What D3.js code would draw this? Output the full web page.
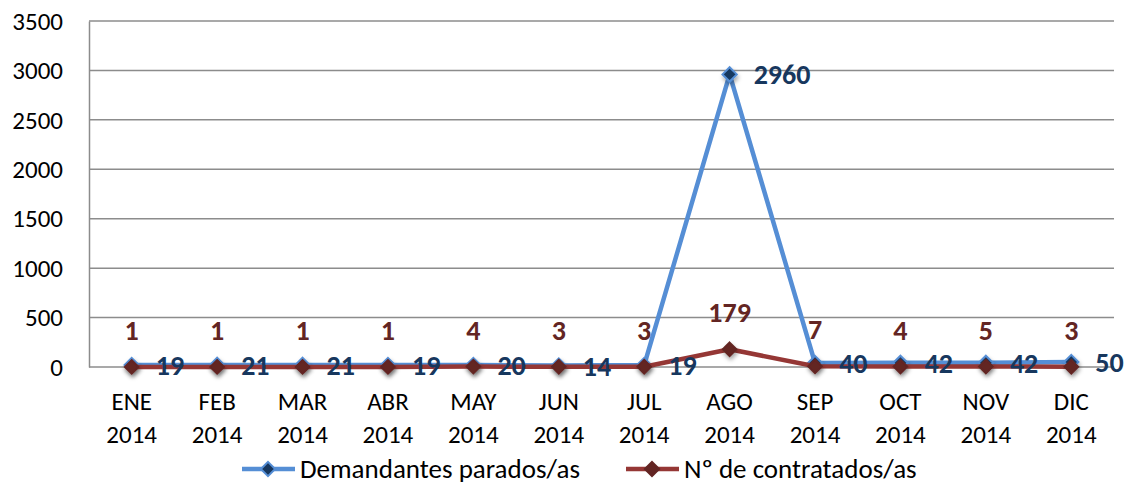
<!DOCTYPE html>
<html>
<head>
<meta charset="utf-8">
<script src="https://cdn.jsdelivr.net/npm/d3@7"></script>
<style>
  body { margin: 0; background: #fff; }
  svg text { font-family: Carlito, "Open Sans", "DejaVu Sans", sans-serif; }
</style>
</head>
<body>
<svg id="chart" width="1126" height="486"></svg>
<script>
const months = ["ENE", "FEB", "MAR", "ABR", "MAY", "JUN", "JUL", "AGO", "SEP", "OCT", "NOV", "DIC"];
const years = ["2014", "2014", "2014", "2014", "2014", "2014", "2014", "2014", "2014", "2014", "2014", "2014"];
const demandantes = [19, 21, 21, 19, 20, 14, 19, 2960, 40, 42, 42, 50];
const contratados = [1, 1, 1, 1, 4, 3, 3, 179, 7, 4, 5, 3];
const yTicks = [0, 500, 1000, 1500, 2000, 2500, 3000, 3500];
const seriesNames = ["Demandantes parados/as", "Nº de contratados/as"];

const svg = d3.select("#chart");
const margin = { top: 21, right: 12, bottom: 119, left: 89 };
const width = +svg.attr("width") - margin.left - margin.right;
const height = +svg.attr("height") - margin.top - margin.bottom;

const g = svg.append("g").attr("transform", `translate(${margin.left},${margin.top})`);

const x = d3.scaleBand().domain(months).range([0, width]);
const y = d3.scaleLinear().domain([0, 3500]).range([height, 0]);

// gridlines
g.selectAll(".grid")
    .data(yTicks)
    .enter()
    .append("line")
    .attr("x1", 0)
    .attr("x2", width)
    .attr("y1", d => y(d))
    .attr("y2", d => y(d))
    .attr("stroke", "#8c8c8c")
    .attr("stroke-width", 1.5);

// y axis
const yAxis = g.append("g")
    .call(d3.axisLeft(y).tickValues(yTicks).tickFormat(d3.format("d")).tickSize(0).tickPadding(26));
yAxis.select(".domain").attr("stroke", "#8c8c8c").attr("stroke-width", 1.5);
yAxis.selectAll("text").attr("font-size", 25).attr("fill", "#000").attr("dy", "0.33em");

// x axis labels
const xl = g.append("g").attr("transform", `translate(0,${height})`);
months.forEach((m, i) => {
    const t = xl.append("text")
        .attr("text-anchor", "middle")
        .attr("font-size", 25)
        .attr("fill", "#000");
    t.append("tspan").attr("x", x(m) + x.bandwidth() / 2).attr("y", 43).text(m);
    t.append("tspan").attr("x", x(m) + x.bandwidth() / 2).attr("y", 76).text(years[i]);
});

const cx = (d, i) => x(months[i]) + x.bandwidth() / 2;
const line = d3.line().x((d, i) => cx(d, i)).y(d => y(d));

const defs = svg.append("defs");
const f = defs.append("filter").attr("id", "shadow").attr("x", "-50%").attr("y", "-50%").attr("width", "200%").attr("height", "200%");
f.append("feDropShadow").attr("dx", 1).attr("dy", 3).attr("stdDeviation", 2).attr("flood-color", "#000").attr("flood-opacity", 0.35);

const diamond = d3.symbol().type(d3.symbolDiamond2).size(130);

// blue series
g.append("path")
    .datum(demandantes)
    .attr("fill", "none")
    .attr("stroke", "#558ed5")
    .attr("stroke-width", 4.5)
    .attr("stroke-linejoin", "round")
    .attr("d", line);
g.selectAll(".m-blue")
    .data(demandantes)
    .enter()
    .append("path")
    .attr("d", diamond)
    .attr("transform", (d, i) => `translate(${cx(d, i)},${y(d)})`)
    .attr("fill", "#17375e")
    .attr("stroke", "#558ed5")
    .attr("stroke-width", 2)
    .attr("filter", "url(#shadow)");

// red series
g.append("path")
    .datum(contratados)
    .attr("fill", "none")
    .attr("stroke", "#953735")
    .attr("stroke-width", 4.5)
    .attr("stroke-linejoin", "round")
    .attr("d", line);
g.selectAll(".m-red")
    .data(contratados)
    .enter()
    .append("path")
    .attr("d", diamond)
    .attr("transform", (d, i) => `translate(${cx(d, i)},${y(d)})`)
    .attr("fill", "#632523")
    .attr("stroke", "#632523")
    .attr("stroke-width", 1.5)
    .attr("filter", "url(#shadow)");

// labels
g.selectAll(".l-blue")
    .data(demandantes)
    .enter()
    .append("text")
    .attr("x", (d, i) => cx(d, i) + 24)
    .attr("y", d => y(d) + 10)
    .attr("font-size", 28)
    .attr("font-weight", "bold")
    .attr("fill", "#17375e")
    .text(d => d);

g.selectAll(".l-red")
    .data(contratados)
    .enter()
    .append("text")
    .attr("x", (d, i) => cx(d, i))
    .attr("y", d => y(d) - 27)
    .attr("text-anchor", "middle")
    .attr("font-size", 28)
    .attr("font-weight", "bold")
    .attr("fill", "#632523")
    .text(d => d);

// legend
const legend = svg.append("g").attr("transform", "translate(242,469)");
const items = [
    { name: seriesNames[0], line: "#558ed5", fill: "#17375e", stroke: "#558ed5", x: 0 },
    { name: seriesNames[1], line: "#953735", fill: "#632523", stroke: "#632523", x: 384 }
];
items.forEach(it => {
    const lg = legend.append("g").attr("transform", `translate(${it.x},0)`);
    lg.append("line").attr("x1", 0).attr("x2", 53).attr("y1", 0).attr("y2", 0)
        .attr("stroke", it.line).attr("stroke-width", 4.5);
    lg.append("path").attr("d", diamond).attr("transform", "translate(26,0)")
        .attr("fill", it.fill).attr("stroke", it.stroke).attr("stroke-width", 2);
    lg.append("text").attr("x", 58).attr("y", 0).attr("dy", "0.33em")
        .attr("font-size", 27).attr("fill", "#000").text(it.name);
});
</script>
</body>
</html>
